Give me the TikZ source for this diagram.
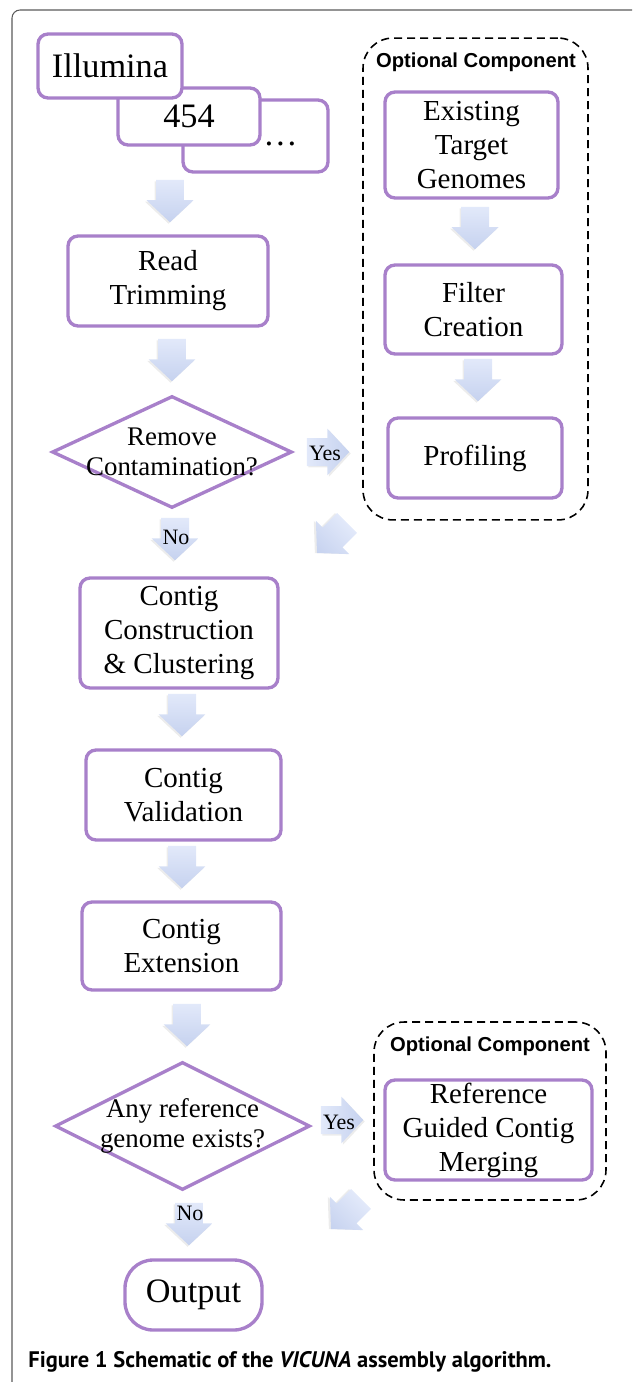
\documentclass[tikz,border=0pt]{standalone}
\usepackage{fontspec}
\setmainfont{Liberation Serif}
\setsansfont{Liberation Sans}
\newfontfamily\capfont{PT Sans}
\usetikzlibrary{shapes.geometric,shadows}
\definecolor{boxpurple}{RGB}{168,128,202}
\definecolor{arrowlight}{RGB}{226,233,250}
\definecolor{arrowdark}{RGB}{198,210,239}
\definecolor{framegray}{RGB}{90,90,90}

\newcommand{\flowarrow}[3]{%
 \node[inner sep=0pt, rotate={#3}] ({#1}) at ({#2}) {%
  \begin{tikzpicture}%
   \shade[left color=arrowlight, right color=arrowdark,
     drop shadow={opacity=0.15, shadow xshift=0.03cm, shadow yshift=-0.03cm}]
     (-0.42cm,-0.28cm) -- (-0.01cm,-0.28cm) -- (-0.01cm,-0.47cm) -- (0.43cm,0cm)
     -- (-0.01cm,0.47cm) -- (-0.01cm,0.28cm) -- (-0.42cm,0.28cm) -- cycle;%
  \end{tikzpicture}%
 };%
}
\newcommand{\answer}[3]{%
 \node[answertext] ({#1}) at ({#2}) {#3};%
}

\begin{document}
\begin{tikzpicture}[x=0.02cm, y=-0.02cm,
  box/.style={draw=boxpurple, line width=1.9pt, fill=white, rounded corners=0.2cm,
    align=center, inner sep=0pt, font=\fontsize{16.5}{19.3}\selectfont},
  bigbox/.style={box, font=\fontsize{19.5}{22}\selectfont},
  decision/.style={diamond, draw=boxpurple, line width=1.9pt, inner sep=0pt},
  decisiontext/.style={align=center, font=\fontsize{15.3}{17.2}\selectfont},
  optional/.style={draw, line width=0.9pt, dash pattern=on 0.16cm off 0.1cm,
    rounded corners=0.6cm, inner sep=0pt},
  optlabel/.style={font=\sffamily\bfseries\fontsize{11.5}{13}\selectfont},
  answertext/.style={font=\fontsize{12.5}{14}\selectfont}]
 \useasboundingbox (0,0) rectangle (632,1382);
 \draw[framegray, line width=0.6pt, rounded corners=0.16cm] (12,1382) -- (12,10) -- (632,10);

 % input read types
 \node[bigbox, minimum width=2.9cm, minimum height=1.44cm,
   label={[font=\fontsize{19.5}{22}\selectfont]center:{\hspace*{1.0cm}\raisebox{-0.4cm}{\ldots}}}] (dots) at (255.5,136) {};
 \node[bigbox, minimum width=2.84cm, minimum height=1.14cm] (r454) at (189,116.5) {454};
 \node[bigbox, minimum width=2.88cm, minimum height=1.28cm] (illumina) at (110,66) {Illumina};

 % optional component (top)
 \node[optional, minimum width=4.5cm, minimum height=9.64cm] (opt1) at (475.5,279) {};
 \node[optlabel] (opt1lbl) at (476,62) {Optional Component};
 \node[box, minimum width=3.46cm, minimum height=2.12cm] (genomes) at (471.5,145) {Existing\\Target\\Genomes};
 \node[box, minimum width=3.54cm, minimum height=1.78cm] (filter) at (473.5,309.5) {Filter\\Creation};
 \node[box, minimum width=3.48cm, minimum height=1.6cm] (profiling) at (475,458) {Profiling};
 \flowarrow{a3}{475,228}{-90}
 \flowarrow{a4}{478,380}{-90}

 % main flow
 \flowarrow{a1}{170,201}{-90}
 \node[box, minimum width=4.0cm, minimum height=1.8cm] (trim) at (168,281) {Read\\Trimming};
 \flowarrow{a2}{172,360}{-90}
 \node[decision, minimum width=4.8cm, minimum height=2.24cm,
   label={[decisiontext]center:Remove\\Contamination?}] (contam) at (172,452) {};
 \flowarrow{yes1}{328,452}{0}
 \answer{yes1lbl}{325,453}{Yes}
 \flowarrow{no1}{175,539}{-90}
 \answer{no1lbl}{176,537}{No}
 \flowarrow{back1}{332,538}{-135}
 \node[box, minimum width=3.96cm, minimum height=2.2cm] (construct) at (179,633) {Contig\\Construction\\\& Clustering};
 \flowarrow{a5}{182,715}{-90}
 \node[box, minimum width=3.9cm, minimum height=1.8cm] (validate) at (183.5,795) {Contig\\Validation};
 \flowarrow{a6}{182,867}{-90}
 \node[box, minimum width=3.98cm, minimum height=1.76cm] (extend) at (181.5,946) {Contig\\Extension};
 \flowarrow{a7}{187,1025}{-90}
 \node[decision, minimum width=5.1cm, minimum height=2.56cm,
   label={[decisiontext]center:Any reference\\genome exists?}] (refq) at (182.5,1126) {};
 \flowarrow{yes2}{342,1120}{0}
 \answer{yes2lbl}{339,1122}{Yes}
 \flowarrow{no2}{189,1224}{-90}
 \answer{no2lbl}{190,1213}{No}
 \flowarrow{back2}{346,1214}{-135}
 \node[bigbox, rounded corners=0.56cm, minimum width=2.74cm, minimum height=1.4cm] (output) at (193.5,1295) {Output};

 % optional component (bottom)
 \node[optional, minimum width=4.64cm, minimum height=3.56cm] (opt2) at (490,1111) {};
 \node[optlabel] (opt2lbl) at (490,1046) {Optional Component};
 \node[box, minimum width=4.14cm, minimum height=2.0cm] (merge) at (488.5,1130) {Reference\\Guided Contig\\Merging};

 % caption
 \node[anchor=west, inner sep=0pt, font=\capfont\bfseries\fontsize{12.8}{14}\selectfont] (caption) at (28,1362)
   {Figure 1 Schematic of the \textit{VICUNA} assembly algorithm.};
\end{tikzpicture}
\end{document}
